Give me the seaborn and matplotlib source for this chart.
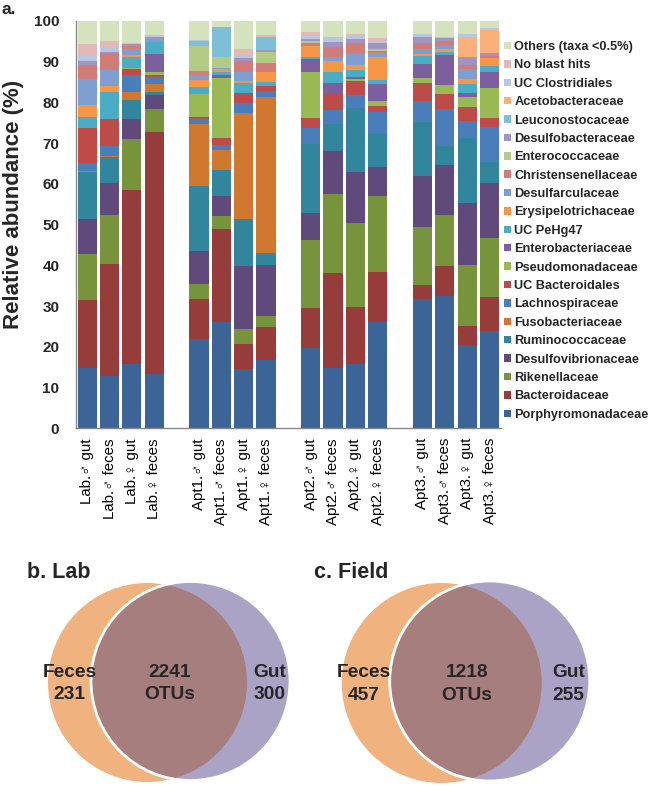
import numpy as np
import pandas as pd
import matplotlib
matplotlib.use("Agg")
import matplotlib.pyplot as plt
import seaborn as sns
from matplotlib.patches import Patch, Circle

sns.set_style("white")
plt.rcParams['font.family'] = ['Liberation Sans', 'DejaVu Sans']

# ---------------- data ----------------
samples = ["Lab.♂ gut", "Lab.♂ feces", "Lab.♀ gut", "Lab.♀ feces",
           "Apt1.♂ gut", "Apt1.♂ feces", "Apt1.♀ gut", "Apt1.♀ feces",
           "Apt2.♂ gut", "Apt2.♂ feces", "Apt2.♀ gut", "Apt2.♀ feces",
           "Apt3.♂ gut", "Apt3.♂ feces", "Apt3.♀ gut", "Apt3.♀ feces"]
positions = [0, 1, 2, 3, 5, 6, 7, 8, 10, 11, 12, 13, 15, 16, 17, 18]

# taxa, bottom to top
taxa = ["Porphyromonadaceae", "Bacteroidaceae", "Rikenellaceae", "Desulfovibrionaceae",
        "Ruminococcaceae", "Fusobacteriaceae", "Lachnospiraceae", "UC Bacteroidales",
        "Pseudomonadaceae", "Enterobacteriaceae", "UC PeHg47", "Erysipelotrichaceae",
        "Desulfarculaceae", "Christensenellaceae", "Enterococcaceae", "Desulfobacteraceae",
        "Leuconostocaceae", "Acetobacteraceae", "UC Clostridiales", "No blast hits",
        "Others (taxa <0.5%)"]

porphyromonadaceae = [14.9, 12.9, 15.7, 13.3, 21.9, 26.2, 14.5, 16.8, 19.8, 14.9, 15.8, 26.0, 31.7, 32.5, 20.5, 24.0]
bacteroidaceae = [16.6, 27.4, 42.8, 59.5, 9.8, 22.6, 6.1, 8.0, 9.7, 23.3, 13.9, 12.3, 3.5, 7.3, 4.6, 8.3]
rikenellaceae = [11.2, 12.1, 12.5, 5.6, 3.7, 3.4, 3.7, 2.8, 16.7, 19.3, 20.8, 18.7, 14.1, 12.6, 15.0, 14.5]
desulfovibrionaceae = [8.7, 7.9, 5.0, 3.4, 8.2, 4.7, 15.5, 12.5, 6.6, 10.5, 12.3, 7.2, 12.6, 12.2, 15.3, 13.3]
ruminococcaceae = [11.6, 6.2, 4.6, 0.6, 15.9, 6.5, 11.5, 2.9, 17.0, 6.7, 15.7, 7.9, 13.3, 4.7, 15.8, 5.3]
fusobacteriaceae = [0.2, 0.4, 1.8, 2.1, 15.2, 4.9, 26.0, 38.2, 0, 0, 0, 0, 0, 0, 0, 0]
lachnospiraceae = [1.8, 2.4, 4.2, 1.6, 1.1, 1.1, 2.4, 1.6, 3.8, 3.4, 3.3, 5.4, 5.2, 9.0, 4.2, 8.6]
uc_bacteroidales = [8.8, 6.7, 1.5, 0.6, 0.5, 1.9, 2.5, 1.3, 2.5, 3.9, 3.5, 1.7, 4.4, 3.7, 3.4, 2.1]
pseudomonadaceae = [0, 0, 0.2, 0.6, 5.6, 14.6, 0, 0, 11.2, 0, 0.4, 1.0, 1.1, 2.3, 2.4, 7.3]
enterobacteriaceae = [0, 0, 0, 4.5, 0, 0.8, 0, 0, 3.2, 2.6, 0.6, 4.3, 3.4, 7.2, 1.0, 3.9]
uc_pehg47 = [2.5, 6.4, 2.7, 2.9, 1.8, 0.6, 2.4, 0.9, 0.7, 2.7, 1.6, 1.0, 2.1, 0.9, 2.3, 1.7]
erysipelotrichaceae = [3.0, 1.6, 0.6, 0, 1.8, 0.8, 0.7, 2.5, 2.5, 2.7, 1.2, 5.5, 0.4, 0.6, 1.1, 1.8]
desulfarculaceae = [6.3, 3.9, 1.4, 0.7, 1.2, 0.2, 2.0, 0, 0, 1.0, 2.7, 1.0, 1.2, 0.8, 2.5, 0]
christensenellaceae = [3.6, 4.1, 0.8, 0, 1.0, 0.2, 2.7, 2.1, 0.8, 2.5, 2.7, 0.5, 1.5, 1.1, 1.1, 0.6]
enterococcaceae = [0, 0, 0, 0, 6.0, 2.7, 0, 2.7, 0.4, 0, 0, 0.5, 0, 0, 0, 0]
desulfobacteraceae = [1.0, 0.4, 0.4, 0.7, 0, 0, 0.8, 0.4, 0.5, 1.2, 0.9, 1.5, 1.4, 0.8, 2.0, 0.8]
leuconostocaceae = [0, 0, 0, 0, 1.2, 7.2, 0, 3.2, 0, 0, 0, 0, 0, 0, 0, 0]
acetobacteraceae = [0, 0, 0, 0, 0, 0, 0, 0, 0, 0, 0, 0, 0, 0, 4.9, 5.4]
uc_clostridiales = [1.1, 1.1, 0.2, 0.4, 0.4, 0, 0.8, 0, 1.1, 1.2, 0.9, 0.4, 0.9, 0.4, 0.7, 0.6]
no_blast_hits = [3.1, 1.4, 0.2, 0, 0, 0, 1.4, 0.7, 0.8, 0.2, 0.5, 0.8, 0, 0, 0, 0]
others = [5.6, 5.1, 5.4, 3.5, 4.7, 1.6, 7.0, 3.4, 2.7, 3.9, 3.2, 4.3, 3.2, 3.9, 3.2, 1.8]

series = [porphyromonadaceae, bacteroidaceae, rikenellaceae, desulfovibrionaceae,
          ruminococcaceae, fusobacteriaceae, lachnospiraceae, uc_bacteroidales,
          pseudomonadaceae, enterobacteriaceae, uc_pehg47, erysipelotrichaceae,
          desulfarculaceae, christensenellaceae, enterococcaceae, desulfobacteraceae,
          leuconostocaceae, acetobacteraceae, uc_clostridiales, no_blast_hits, others]

colors = ["#3D6496", "#963C3A", "#77933C", "#604A7B", "#31859C", "#D0782F",
          "#4A7EBB", "#BE4B48", "#98B954", "#7D5FA0", "#4BACC6", "#F79646",
          "#7F9FD0", "#D27C7A", "#B3CB85", "#A293C0", "#7CBFD6", "#F9B07B",
          "#B8C7E0", "#E3B9B8", "#D4E2BE"]

# Venn data
venn_lab = {"title": "b. Lab", "feces": 231, "shared": 2241, "gut": 300}
venn_field = {"title": "c. Field", "feces": 457, "shared": 1218, "gut": 255}

# ---------------- long table with cumulative tops ----------------
vals = np.array(series)  # taxa x samples
cum = np.cumsum(vals, axis=0)
rows = []
for ti, t in enumerate(taxa):
    for si, (s, p) in enumerate(zip(samples, positions)):
        rows.append({"sample": s, "pos": p, "taxon": t, "top": cum[ti, si]})
df = pd.DataFrame(rows)

# ---------------- figure ----------------
W, H = 650, 786
fig = plt.figure(figsize=(W / 100, H / 100), dpi=100)
bg = fig.add_axes([0, 0, 1, 1])
bg.set_xlim(0, W)
bg.set_ylim(H, 0)
bg.axis("off")

ax_l, ax_r, ax_t, ax_b = 76, 500.7, 20.7, 428.4
ax = fig.add_axes([ax_l / W, 1 - ax_b / H, (ax_r - ax_l) / W, (ax_b - ax_t) / H])

for ti in range(len(taxa) - 1, -1, -1):
    sub = df[df["taxon"] == taxa[ti]]
    sns.barplot(data=sub, x="pos", y="top", native_scale=True, color=colors[ti],
                saturation=1, width=0.86, errorbar=None, linewidth=0, ax=ax)

ax.set_xlim(-0.5, 18.5)
ax.set_ylim(0, 100)
ax.set_xlabel("")
ax.set_ylabel("")
ax.set_xticks(positions)
ax.set_xticklabels(samples, rotation=90, fontsize=10.8, va="top", ha="center")
ax.set_xticks(np.arange(-0.5, 19, 1), minor=True)
ax.tick_params(axis="x", which="major", length=0, pad=7, colors="black")
ax.tick_params(axis="x", which="minor", length=5, width=1, color="#868686")
ax.set_yticks(np.arange(0, 101, 10))
ax.set_yticklabels([str(v) for v in range(0, 101, 10)], fontsize=11, fontweight="bold")
ax.tick_params(axis="y", length=4, width=1, color="#868686", pad=8)
for sp in ["top", "right"]:
    ax.spines[sp].set_visible(False)
for sp in ["left", "bottom"]:
    ax.spines[sp].set_color("#868686")
    ax.spines[sp].set_linewidth(1)
ax.grid(False)

# legend (top entry = last taxon)
handles = [Patch(facecolor=colors[i], edgecolor="none") for i in range(len(taxa))][::-1]
labels = taxa[::-1]
fig.legend(handles, labels, loc="upper left", bbox_to_anchor=(504 / W, 1 - 41 / H),
           frameon=False, prop={"weight": "bold", "size": 9.2},
           handlelength=0.52, handleheight=0.52, handletextpad=0.3,
           labelspacing=0.50, borderaxespad=0, borderpad=0)

# labels
bg.text(14, 204, "Relative abundance (%)", rotation=90, ha="center", va="center",
        fontsize=16, fontweight="bold")
bg.text(2, 9, "a.", ha="left", va="center", fontsize=12.5, fontweight="bold")

# ---------------- Venn diagrams ----------------
orange = "#F0B27E"
purple = "#ABA3C5"
overlap = "#A67E7D"


def venn(d, cx_f, cy_f, r_f, cx_g, cy_g, r_g, title_x):
    c_f = Circle((cx_f, cy_f), r_f, facecolor=orange, edgecolor="none")
    c_g = Circle((cx_g, cy_g), r_g, facecolor=purple, edgecolor="none")
    bg.add_patch(c_f)
    bg.add_patch(c_g)
    c_o = Circle((cx_f, cy_f), r_f, facecolor=overlap, edgecolor="none")
    bg.add_patch(c_o)
    c_o.set_clip_path(c_g)
    bg.add_patch(Circle((cx_g, cy_g), r_g, fill=False, edgecolor="white", linewidth=2))
    bg.text(title_x, 572, d["title"], ha="left", va="center", fontsize=15.5, fontweight="bold")
    kw = dict(ha="center", va="center", fontsize=13.8, fontweight="bold", linespacing=1.45)
    bg.text(cx_f - 78, cy_f + 1, f"Feces\n{d['feces']}", **kw)
    bg.text((cx_f + r_f + cx_g - r_g) / 2 + 1, cy_f + 1, f"{d['shared']}\nOTUs", **kw)
    bg.text(cx_g + 79, cy_f + 1, f"Gut\n{d['gut']}", **kw)


venn(venn_lab, 147.5, 682.5, 99.5, 190.5, 681, 99.5, 27)
venn(venn_field, 441.7, 683, 100, 489.7, 681, 100, 314)

fig.savefig("out.png", dpi=100)
